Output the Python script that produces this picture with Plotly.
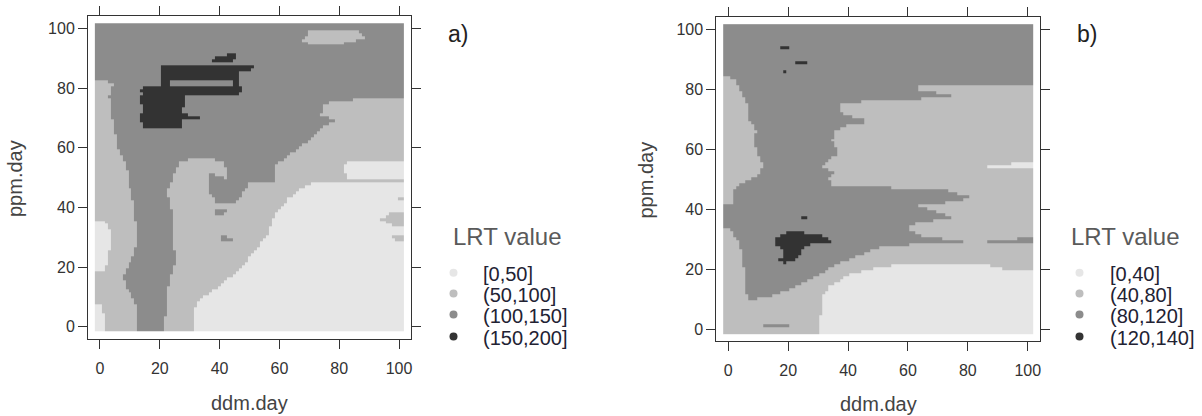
import numpy as np
import plotly.graph_objects as go

# sample grid of the two covariates
ddm_day = np.arange(0, 101, 1)
ppm_day = np.arange(0, 101, 1)
tick_vals = [0, 20, 40, 60, 80, 100]

levels_a = ["[0,50]", "(50,100]", "(100,150]", "(150,200]"]
levels_b = ["[0,40]", "(40,80]", "(80,120]", "(120,140]"]
gray_fill = ["#e6e6e6", "#bebebe", "#8c8c8c", "#333333"]

# ---- panel a: LRT class outlines (ddm.day, ppm.day), painted in order ----
a_left_strip = [(-2, -2), (-2, 82), (1, 82.5), (4.3, 81.5), (3, 77), (3.8, 71), (5, 65),
                (6, 60), (8.8, 54), (9.4, 49), (11.6, 40), (12.7, 28.5), (9.4, 19.6),
                (7.7, 17.3), (8.2, 14), (10.5, 10.6), (12.7, 6), (12.7, -2)]
a_right_zone = [(21.6, -2), (22.2, 6), (22.7, 11.7), (23.9, 17.3), (26, 23), (24, 28.5),
                (25, 34), (23.9, 40), (22.7, 45.3), (25, 51), (27, 55), (30, 56),
                (36, 56.5), (41, 55.5), (43, 52), (43, 49), (58.4, 48.5), (58.4, 53.7),
                (60.6, 55.5), (64, 58), (68.4, 61.4), (71.8, 64.4), (74, 66.8),
                (78.5, 69), (74, 71), (75, 74.8), (88.5, 76.5), (101.5, 77), (101.5, -2)]
a_top_patch = [(68, 96), (70, 99), (86, 99.3), (89, 97), (84, 95.5), (79, 94.5), (70, 94.5)]
a_tongue = [(37, 51.5), (37, 45), (39, 42), (46, 42), (48, 45), (50, 48.5), (43, 49.5)]
a_spot_1 = [(37.8, 38.5), (40, 40), (42.8, 39), (41, 37), (38.5, 37.2)]
a_spot_2 = [(40, 29.5), (42, 30.5), (44.5, 29), (43, 28), (40.5, 28.3)]
a_low_main = [(31.7, -2), (31.7, 6), (33.9, 9.5), (40.6, 14), (46, 18.5), (51.7, 25),
              (56, 30.8), (58.4, 37.5), (63, 43), (67, 46.4), (72, 48.6), (101.5, 48.6),
              (101.5, -2)]
a_low_patch = [(81, 52.5), (82.5, 55.2), (101.5, 55.6), (101.5, 50), (83, 50)]
a_low_left = [(-2, 18.5), (-2, 36), (1, 36), (3, 33), (3.2, 27), (2.5, 22), (1, 18.5)]
a_low_corner = [(-2, -2), (-2, 9), (0, 8), (1.5, 3), (2, -2)]
a_edge_1 = [(94, 36), (97, 38.6), (101.5, 39), (101.5, 33), (98, 33.5)]
a_edge_2 = [(97, 29.7), (99, 30.8), (101.5, 31), (101.5, 28.5), (99, 28.5)]
a_edge_3 = [(99, 42.8), (101.5, 43.8), (101.5, 42)]
a_peak = [(20.8, 87.7), (50, 87.6), (52.4, 86.6), (50, 85.6), (46.3, 85.3), (46.3, 82.5),
          (46.8, 80.7), (47.4, 79.3), (46.5, 77.8), (28.4, 77.8), (28.4, 73.3), (27.3, 73),
          (27.3, 71.2), (33.4, 70.6), (33.4, 69.4), (27.3, 69.2), (27, 66.6), (14.5, 66.6),
          (13.4, 70), (14.5, 73), (13.4, 76.5), (15, 78), (13.4, 79.6), (16, 80.6),
          (20.8, 80.6)]
a_peak_gap = [(23.4, 82.4), (44.6, 82.4), (44.6, 80.8), (23.4, 80.8)]
a_peak_spot = [(37.3, 89.5), (39, 90.5), (42, 90.2), (43.5, 91.6), (46.3, 90.8),
               (44.5, 88.6), (38.5, 88.6)]

a_base = 2
a_paint = [(1, a_left_strip), (1, a_right_zone), (1, a_top_patch), (2, a_tongue),
           (2, a_spot_1), (2, a_spot_2), (0, a_low_main), (0, a_low_patch),
           (0, a_low_left), (0, a_low_corner), (1, a_edge_1), (1, a_edge_2),
           (1, a_edge_3), (3, a_peak), (2, a_peak_gap), (3, a_peak_spot)]

# ---- panel b ----
b_ridge = [(-2, 102), (102, 102), (102, 82), (88, 81.5), (63.5, 81), (63.5, 80), (70, 79),
           (76, 78.3), (70, 77.3), (55, 76.5), (45, 76), (37.5, 75), (38.2, 71.9),
           (48, 69.3), (40, 68.5), (36, 66.3), (34.9, 63), (37, 58.5), (35, 57),
           (31.5, 54), (36, 52), (33.7, 50.7), (35, 47.5), (55, 47), (72, 46.5),
           (82, 43.5), (71.6, 41.8), (64, 41), (75, 37), (62.7, 35.1), (59.4, 33.5),
           (65, 31), (79, 29), (65, 28.3), (51.6, 27.4), (42.6, 24), (34.9, 20.7),
           (29.3, 17.4), (22.6, 14), (15.9, 11.2), (7, 9.6), (5.9, 11.8), (4.8, 23),
           (3.7, 28.5), (0.3, 33), (-2, 36.3), (-2, 40.2), (1.4, 41.8), (1.4, 46.3),
           (2.6, 47.4), (9.2, 50.7), (11.5, 54), (9.2, 59.6), (8.1, 63), (9.2, 66.3),
           (7, 69.6), (6.5, 74), (4.8, 77.4), (2.6, 83), (0, 84.2), (-2, 84.5)]
b_streak = [(86.6, 29.2), (95, 29.5), (100, 30.8), (101.5, 31.2), (101.5, 28), (95, 28.5),
            (87, 28.5)]
b_low_main = [(30.4, -2), (31.5, 10.7), (33.7, 14), (40.4, 17.9), (51.6, 20.7),
              (62.7, 21.8), (85, 21.6), (92.8, 19.6), (101.5, 19), (101.5, -2)]
b_low_streak = [(87, 54.8), (95, 55), (101.5, 55.8), (101.5, 53.6), (87, 53.6)]
b_peak = [(15.9, 30.1), (18.2, 31.8), (22.6, 32.4), (24.8, 32.9), (25.9, 31.3), (31.5, 31.3),
          (34.9, 29), (32.6, 28.5), (27, 27.9), (24.8, 26.8), (23.7, 23.5), (19.3, 21.8),
          (16.5, 22.9), (18.2, 24), (18.7, 25.7), (15.4, 28.5)]
b_peak_dot = [(24.7, 37.6), (26.5, 37.4), (26, 36.5), (24.8, 36.8)]
b_peak_spot_1 = [(17.6, 94.7), (20.4, 94), (20, 93.3), (17.8, 93.8)]
b_peak_spot_2 = [(22.6, 89.5), (25, 90), (26.5, 88.8), (23, 88.5)]
b_peak_spot_3 = [(18, 87.2), (19, 87), (20.4, 85.4), (19.3, 85.4)]
b_low_dash = [(12, 1.8), (20.4, 1.5), (20.4, 0.6), (12, 0.8)]

b_base = 1
b_paint = [(2, b_ridge), (2, b_streak), (0, b_low_main), (0, b_low_streak), (3, b_peak),
           (3, b_peak_dot), (3, b_peak_spot_1), (3, b_peak_spot_2), (3, b_peak_spot_3),
           (2, b_low_dash)]


def inside(outline, X, Y):
    px = np.array([p[0] for p in outline], float)
    py = np.array([p[1] for p in outline], float)
    hit = np.zeros(X.shape, bool)
    j = len(px) - 1
    for i in range(len(px)):
        xi, yi, xj, yj = px[i], py[i], px[j], py[j]
        if yi != yj:
            cross = ((yi > Y) != (yj > Y)) & (X < (xj - xi) * (Y - yi) / (yj - yi) + xi)
            hit ^= cross
        j = i
    return hit


def class_grid(base, paint):
    X, Y = np.meshgrid(ddm_day, ppm_day)
    z = np.full(X.shape, base, float)
    for level, outline in paint:
        z[inside(outline, X, Y)] = level
    return z


z_a = class_grid(a_base, a_paint)
z_b = class_grid(b_base, b_paint)

# cells reach a little past the outer samples, like the plotted dots
x_edges = np.concatenate([[-1.7], (ddm_day[:-1] + ddm_day[1:]) / 2, [101.7]])
y_edges = np.concatenate([[-1.7], (ppm_day[:-1] + ppm_day[1:]) / 2, [101.7]])

scale = []
for k, c in enumerate(gray_fill):
    scale += [[k / 4, c], [(k + 1) / 4, c]]

W, H = 1202, 416
fig = go.Figure()
for z, xa, ya in [(z_a, "x", "y"), (z_b, "x2", "y2")]:
    fig.add_trace(go.Heatmap(z=z, x=x_edges, y=y_edges, colorscale=scale, zmin=-0.5,
                             zmax=3.5, showscale=False, xaxis=xa, yaxis=ya,
                             hoverinfo="skip"))

# legend keys drawn on a page-sized overlay axis
key_rows_y = [272.7, 293.5, 314.5, 336.5]
for key_x in [453.5, 1079.5]:
    fig.add_trace(go.Scatter(x=[key_x] * 4, y=key_rows_y, mode="markers",
                             marker=dict(size=8, color=gray_fill), xaxis="x3", yaxis="y3",
                             showlegend=False, hoverinfo="skip"))

axis_font = dict(family="Liberation Sans, Arial, sans-serif", size=16, color="#333333")
common = dict(range=[-4, 104], tickvals=tick_vals, ticks="outside", ticklen=9,
              tickcolor="#333333", showline=True, linecolor="#333333", linewidth=1,
              mirror="ticks", showgrid=False, zeroline=False, tickfont=axis_font,
              fixedrange=True)
x_common = dict(common, ticklabelstandoff=6)

fig.update_layout(
    width=W, height=H, margin=dict(l=0, r=0, t=0, b=0),
    paper_bgcolor="white", plot_bgcolor="rgba(0,0,0,0)", showlegend=False,
    xaxis=dict(domain=[88.0 / W, 411.0 / W], anchor="y", **x_common),
    yaxis=dict(domain=[1 - 338.6 / H, 1 - 16.4 / H], anchor="x", **common),
    xaxis2=dict(domain=[716.3 / W, 1039.7 / W], anchor="y2", **x_common),
    yaxis2=dict(domain=[1 - 341.0 / H, 1 - 17.3 / H], anchor="x2", **common),
    xaxis3=dict(domain=[0, 1], range=[0, W], visible=False, anchor="y3", fixedrange=True),
    yaxis3=dict(domain=[0, 1], range=[H, 0], visible=False, anchor="x3", fixedrange=True),
)

title_font = dict(family="Liberation Sans, Arial, sans-serif", size=20, color="#444444")
tag_font = dict(family="Liberation Sans, Arial, sans-serif", size=23, color="#222222")
notes = [
    ("ppm.day", 15, 179, -90, title_font, "center"),
    ("ddm.day", 249, 403, 0, title_font, "center"),
    ("ppm.day", 645.5, 180, -90, title_font, "center"),
    ("ddm.day", 878, 404, 0, title_font, "center"),
    ("a)", 457.5, 34, 0, tag_font, "center"),
    ("b)", 1087, 34, 0, tag_font, "center"),
]
lg_title = dict(family="Liberation Sans, Arial, sans-serif", size=24, color="#5a5a5a")
lg_text = dict(family="Liberation Sans, Arial, sans-serif", size=20, color="#222233")
notes.append(("LRT value", 451, 236, 0, lg_title, "left"))
notes.append(("LRT value", 1069, 236, 0, lg_title, "left"))
for labels, tx in [(levels_a, 481), (levels_b, 1108)]:
    for lab, ty in zip(labels, key_rows_y):
        notes.append((lab, tx, ty + 1.5, 0, lg_text, "left"))

for text, px, py, ang, font, xa in notes:
    fig.add_annotation(text=text, x=px / W, y=1 - py / H, xref="paper", yref="paper",
                       showarrow=False, textangle=ang, font=font, xanchor=xa,
                       yanchor="middle")

fig.write_html("out.html")
